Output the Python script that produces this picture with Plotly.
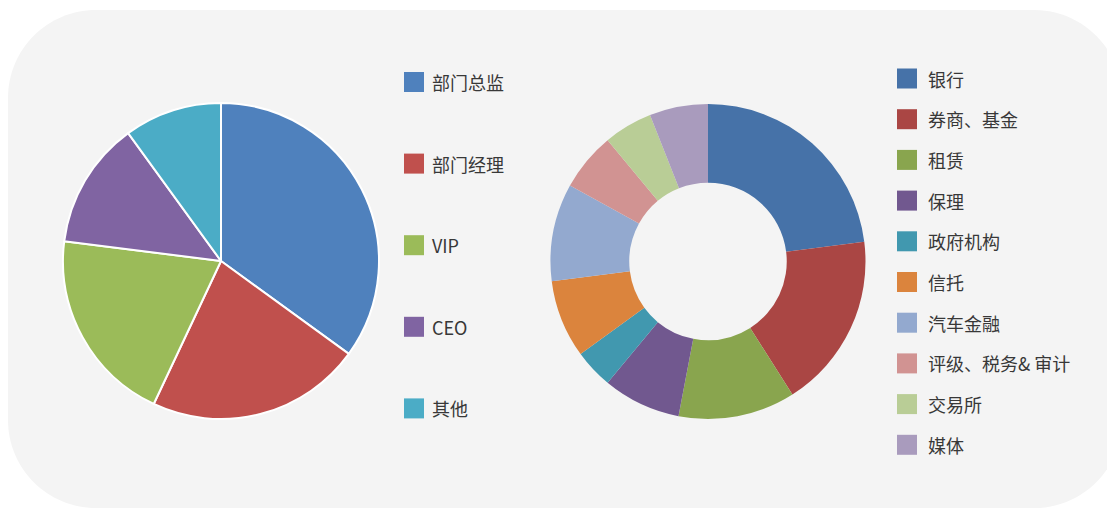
import plotly.graph_objects as go

# ---- data ----
left_labels = ['部门总监', '部门经理', 'VIP', 'CEO', '其他']
left_values = [35, 22, 20, 13, 10]
left_colors = ['#4F81BD', '#C0504D', '#9BBB59', '#8064A2', '#4BACC6']

right_labels = ['银行', '券商、基金', '租赁', '保理', '政府机构', '信托',
                '汽车金融', '评级、税务& 审计', '交易所', '媒体']
right_values = [23, 18, 12, 8, 4, 8, 10, 6, 5, 6]
right_colors = ['#4672A8', '#AA4644', '#89A54E', '#71588F', '#4198AF',
                '#DB843D', '#93A9CF', '#D19392', '#B9CD96', '#A99BBD']

W, H = 1107, 510


def px(x):
    return x / W


def py(y):
    return 1 - y / H


def dom(cx, cy, r):
    return dict(x=[px(cx - r), px(cx + r)], y=[py(cy + r), py(cy - r)])


fig = go.Figure()
fig.add_trace(go.Pie(
    labels=left_labels, values=left_values, sort=False, direction='clockwise',
    rotation=0, textinfo='none', showlegend=False,
    marker=dict(colors=left_colors, line=dict(color='white', width=2)),
    domain=dom(221, 261, 158),
))
fig.add_trace(go.Pie(
    labels=right_labels, values=right_values, sort=False, direction='clockwise',
    rotation=0, textinfo='none', showlegend=False, hole=0.5,
    marker=dict(colors=right_colors, line=dict(color='#F4F4F4', width=0)),
    domain=dom(708, 261.5, 157.5),
))

# rounded background panel
x0, y0, x1, y1, r = 8, 10, 1122, 508, 88
k = 0.5523 * r


def P(x, y):
    return f"{px(x):.5f},{py(y):.5f}"


path = (
    f"M {P(x0 + r, y0)} L {P(x1 - r, y0)} "
    f"C {P(x1 - r + k, y0)} {P(x1, y0 + r - k)} {P(x1, y0 + r)} "
    f"L {P(x1, y1 - r)} "
    f"C {P(x1, y1 - r + k)} {P(x1 - r + k, y1)} {P(x1 - r, y1)} "
    f"L {P(x0 + r, y1)} "
    f"C {P(x0 + r - k, y1)} {P(x0, y1 - r + k)} {P(x0, y1 - r)} "
    f"L {P(x0, y0 + r)} "
    f"C {P(x0, y0 + r - k)} {P(x0 + r - k, y0)} {P(x0 + r, y0)} Z"
)
shapes = [dict(type='path', path=path, xref='paper', yref='paper',
               fillcolor='#F4F4F4', line=dict(width=0), layer='below')]
annotations = []

FONT = "Noto Sans CJK SC, sans-serif"


def legend(labels, colors, sx, y_first, step, size, tx):
    for i, (lab, col) in enumerate(zip(labels, colors)):
        cy = y_first + i * step
        shapes.append(dict(type='rect', xref='paper', yref='paper',
                           x0=px(sx), x1=px(sx + 20), y0=py(cy + 10), y1=py(cy - 10),
                           fillcolor=col, line=dict(width=0)))
        annotations.append(dict(text=lab, xref='paper', yref='paper',
                                x=px(tx), y=py(cy), xanchor='left', yanchor='middle',
                                showarrow=False,
                                font=dict(family=FONT, size=size, color='#383838')))


legend(left_labels, left_colors, 404, 82, 81.6, 18, 430)
legend(right_labels, right_colors, 897, 78.5, 40.7, 18, 926)

fig.update_layout(
    width=W, height=H, margin=dict(l=0, r=0, t=0, b=0),
    paper_bgcolor='white', plot_bgcolor='white',
    shapes=shapes, annotations=annotations, showlegend=False,
)
fig.write_html("out.html")
